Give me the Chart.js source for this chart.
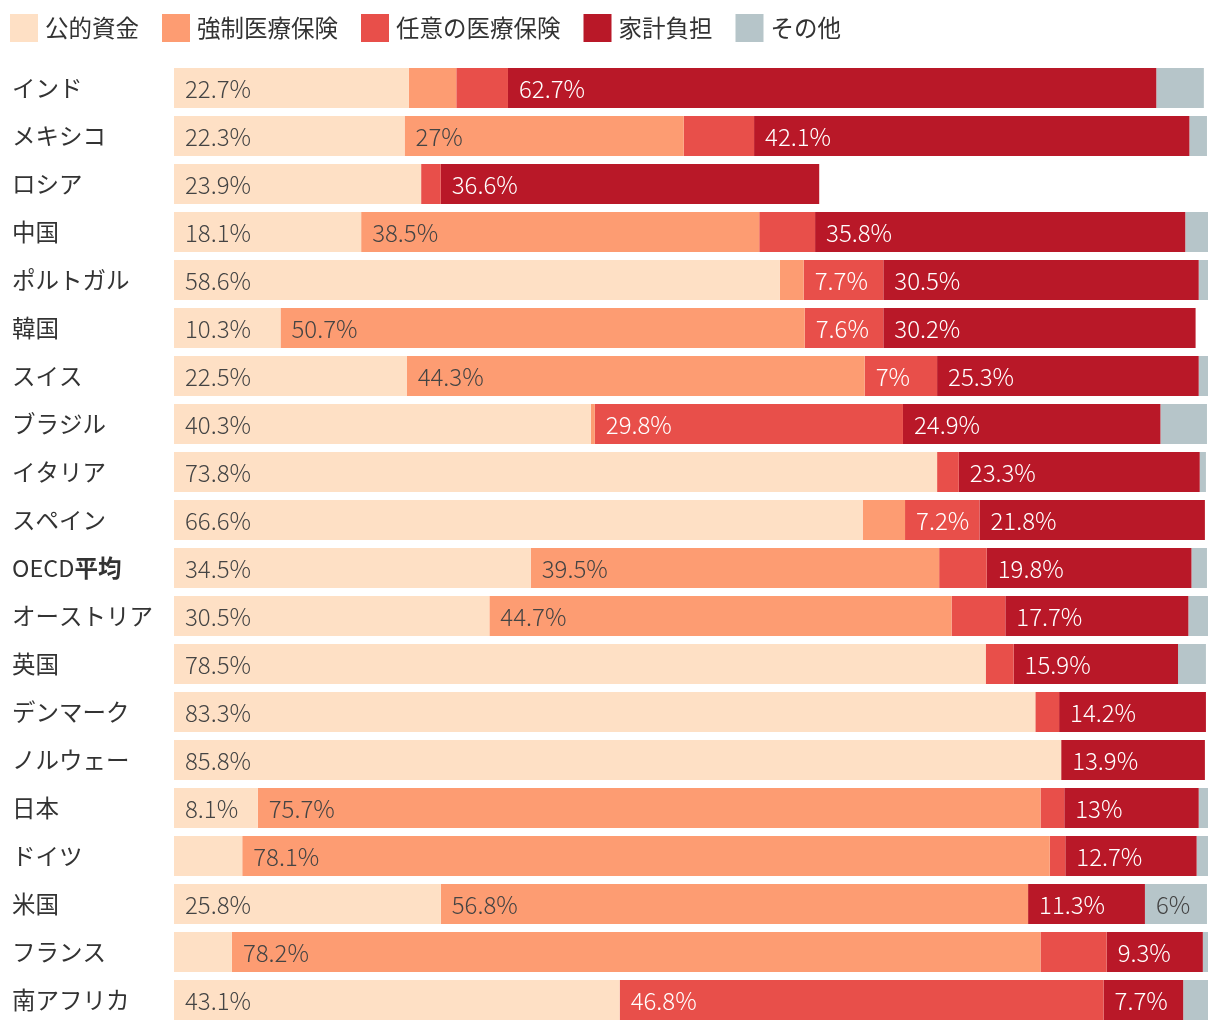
<!DOCTYPE html>
<html>
<head>
<meta charset="utf-8">
<script src="https://cdn.jsdelivr.net/npm/chart.js@4.4.0/dist/chart.umd.min.js"></script>
<style>
  html, body { margin: 0; padding: 0; background: #fff; }
  #wrap { width: 1220px; height: 1032px; }
</style>
</head>
<body>
<div id="wrap"><canvas id="chart" width="1220" height="1032"></canvas></div>
<script>
const FONT = "'Noto Sans CJK JP', 'Noto Sans', sans-serif"

const categories = ['インド', 'メキシコ', 'ロシア', '中国', 'ポルトガル', '韓国', 'スイス', 'ブラジル', 'イタリア', 'スペイン',
    'OECD平均', 'オーストリア', '英国', 'デンマーク', 'ノルウェー', '日本', 'ドイツ', '米国', 'フランス', '南アフリカ']
const seriesNames = ['公的資金', '強制医療保険', '任意の医療保険', '家計負担', 'その他']
const publicFunds = [22.7, 22.3, 23.9, 18.1, 58.6, 10.3, 22.5, 40.3, 73.8, 66.6, 34.5, 30.5, 78.5, 83.3, 85.8, 8.1, 6.6, 25.8, 5.6, 43.1]
const compulsory = [4.6, 27, 0, 38.5, 2.3, 50.7, 44.3, 0.4, 0, 4.1, 39.5, 44.7, 0, 0, 0, 75.7, 78.1, 56.8, 78.2, 0]
const voluntary = [5.0, 6.8, 1.9, 5.4, 7.7, 7.6, 7, 29.8, 2.1, 7.2, 4.6, 5.2, 2.7, 2.3, 0, 2.3, 1.5, 0, 6.4, 46.8]
const household = [62.7, 42.1, 36.6, 35.8, 30.5, 30.2, 25.3, 24.9, 23.3, 21.8, 19.8, 17.7, 15.9, 14.2, 13.9, 13, 12.7, 11.3, 9.3, 7.7]
const other = [4.6, 1.7, 0, 2.3, 1.0, 0, 1.0, 4.5, 0.6, 0, 1.5, 1.9, 2.7, 0, 0, 0.9, 1.3, 6, 0.5, 2.5]

const colors = ['#fee0c5', '#fd9c72', '#e84f4a', '#b91828', '#b6c5c9']
const labelColors = ['#444', '#444', '#fff', '#fff', '#444']

// legend drawn by hand so it sits at the top left
const topLegend = {
    id: 'topLegend',
    afterDraw(chart) {
        const ctx = chart.ctx
        ctx.save()
        ctx.font = '400 23.5px ' + FONT
        ctx.textBaseline = 'middle'
        ctx.textAlign = 'left'
        let x = 10
        chart.data.datasets.forEach(ds => {
            ctx.fillStyle = ds.backgroundColor
            ctx.fillRect(x, 14, 28, 28)
            ctx.fillStyle = '#333'
            ctx.fillText(ds.label, x + 35, 28)
            x += 35 + ctx.measureText(ds.label).width + 23
        })
        ctx.restore()
    }
}

// labels inside the segments, only where they fit
const segLabels = {
    id: 'segLabels',
    afterDatasetsDraw(chart) {
        const ctx = chart.ctx
        ctx.save()
        ctx.font = '300 24px ' + FONT
        ctx.textBaseline = 'middle'
        ctx.textAlign = 'left'
        chart.data.datasets.forEach((ds, di) => {
            const meta = chart.getDatasetMeta(di)
            meta.data.forEach((bar, i) => {
                const v = ds.data[i]
                if (!v) return
                const w = bar.x - bar.base
                const txt = v + '%'
                const tw = ctx.measureText(txt).width
                if (tw + 19 > w) return
                ctx.fillStyle = labelColors[di]
                ctx.fillText(txt, bar.base + 11, bar.y + 1)
            })
        })
        ctx.restore()
    }
}

// category names on the left, OECD平均 with the bold part
const catLabels = {
    id: 'catLabels',
    afterDraw(chart) {
        const ctx = chart.ctx
        const y = chart.scales.y
        ctx.save()
        ctx.textBaseline = 'middle'
        ctx.textAlign = 'left'
        ctx.fillStyle = '#333'
        categories.forEach((c, i) => {
            const py = y.getPixelForValue(i)
            if (c === 'OECD平均') {
                ctx.font = '400 23.5px ' + FONT
                ctx.fillText('OECD', 12, py)
                const w = ctx.measureText('OECD').width
                ctx.font = '700 23.5px ' + FONT
                ctx.fillText('平均', 12 + w, py)
            } else {
                ctx.font = '400 23.5px ' + FONT
                ctx.fillText(c, 12, py)
            }
        })
        ctx.restore()
    }
}

const seriesData = [publicFunds, compulsory, voluntary, household, other]

const chart = new Chart(document.getElementById('chart'), {
    type: 'bar',
    data: {
        labels: categories,
        datasets: seriesNames.map((n, k) => ({
            label: n,
            data: seriesData[k],
            backgroundColor: colors[k],
            borderWidth: 0,
            categoryPercentage: 1,
            barPercentage: 40 / 48
        }))
    },
    options: {
        indexAxis: 'y',
        responsive: false,
        animation: false,
        layout: { padding: { left: 174, right: 12, top: 64, bottom: 8 } },
        scales: {
            x: { stacked: true, min: 0, max: 100, display: false },
            y: { stacked: true, display: false }
        },
        plugins: {
            tooltip: { enabled: false },
            legend: { display: false }
        }
    },
    plugins: [segLabels, catLabels, topLegend]
});
</script>
</body>
</html>
